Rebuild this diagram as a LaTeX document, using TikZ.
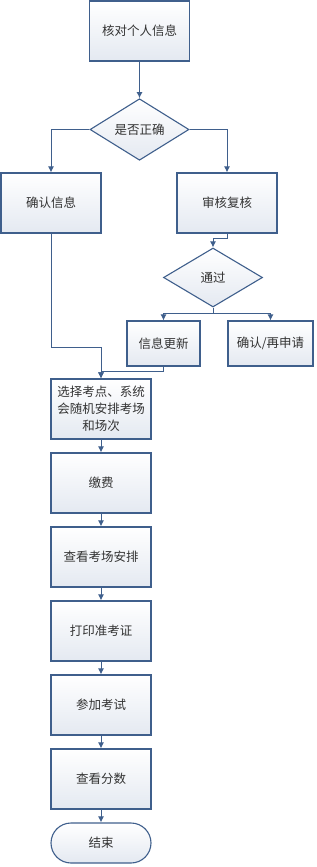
\documentclass[tikz,border=0pt]{standalone}
\usepackage{fontspec}
\setmainfont{Noto Sans CJK SC}
\usetikzlibrary{shapes.geometric,arrows.meta}
\definecolor{edge}{HTML}{3F5F8C}
\definecolor{boxbot}{HTML}{E4E9F1}
\definecolor{txt}{HTML}{333333}
\begin{document}
\begin{tikzpicture}[x=1pt,y=-1pt,
  every node/.style={font=\fontsize{12.5}{17}\selectfont, text=txt},
  box/.style={draw=edge, line width=1.1pt, top color=white, bottom color=boxbot,
    minimum width=100pt, minimum height=60pt, inner sep=0pt, align=center},
  sbox/.style={box, minimum width=73pt, minimum height=45pt},
  sbox2/.style={box, minimum width=85pt, minimum height=45pt},
  dia/.style={diamond, draw=edge, line width=1.1pt, top color=white, bottom color=boxbot,
    minimum width=99pt, minimum height=59pt, inner sep=0pt},
  term/.style={box, rounded corners=20pt, minimum height=40pt},
  conn/.style={draw=edge, line width=1pt, -{Latex[length=6pt,width=6pt]}},
  line/.style={draw=edge, line width=1pt}]
\useasboundingbox (0,0) rectangle (316,867);
\node[box] (b1) at (139.5,31) {核对个人信息};
\node[dia] (d1) at (139.5,129.5) {是否正确};
\node[box] (c1) at (51,203) {确认信息};
\node[box] (c2) at (227,203) {审核复核};
\node[dia] (d2) at (213,277.5) {通过};
\node[sbox] (e1) at (163.5,343.5) {信息更新};
\node[sbox2] (e2) at (270.5,343.5) {确认/再申请};
\node[box] (f) at (101,409) {选择考点、系统\\会随机安排考场\\和场次};
\node[box] (g1) at (101,483) {缴费};
\node[box] (g2) at (101,557) {查看考场安排};
\node[box] (g3) at (101,631) {打印准考证};
\node[box] (g4) at (101,705) {参加考试};
\node[box] (g5) at (101,779) {查看分数};
\node[term] (end) at (101,843) {结束};
\coordinate (j1) at (51,347);
\draw[conn] (b1.south) -- (d1.north);
\draw[conn] (d1.west) -| (c1.north);
\draw[conn] (d1.east) -| (c2.north);
\draw[conn] (c2.south) -- ++(0,5) -| (d2.north);
\draw[conn] (d2.south) -- ++(0,6) -| (e1.north);
\draw[conn] (d2.south) -- ++(0,6) -| (e2.north);
\draw[conn] (c1.south) -- (j1) -| (f.north);
\draw[conn] (e1.south) -- ++(0,5) -| (f.north);
\draw[conn] (f) -- (g1);
\draw[conn] (g1) -- (g2);
\draw[conn] (g2) -- (g3);
\draw[conn] (g3) -- (g4);
\draw[conn] (g4) -- (g5);
\draw[conn] (g5) -- (end);
\end{tikzpicture}
\end{document}
